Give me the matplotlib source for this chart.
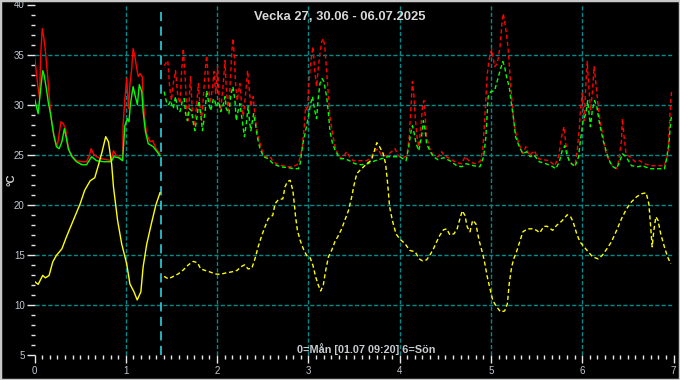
import numpy as np
import matplotlib
matplotlib.use("Agg")
import matplotlib.pyplot as plt
from matplotlib.ticker import MultipleLocator
from matplotlib.patches import Rectangle

plt.rcParams['font.family'] = ['Liberation Sans', 'DejaVu Sans']

title = "Vecka 27, 30.06 - 06.07.2025"
footer = "0=Mån [01.07 09:20] 6=Sön"
t_now = 1.389  # 01.07 09:20

# --- measured so far (solid) ---
red_t = [0, 0.01, 0.03, 0.055, 0.068, 0.085, 0.10, 0.12, 0.14, 0.16, 0.177, 0.20, 0.225, 0.25,
         0.27, 0.29, 0.315, 0.34, 0.36, 0.38, 0.42, 0.46, 0.52, 0.57, 0.60, 0.62, 0.645, 0.68,
         0.735, 0.79, 0.84, 0.865, 0.89, 0.935, 0.965, 0.97, 0.99, 1.01, 1.03, 1.045, 1.065,
         1.08, 1.10, 1.12, 1.137, 1.155, 1.18, 1.19, 1.21, 1.23, 1.265, 1.295, 1.33, 1.375]
red = [34.8, 34.1, 32.4, 30.6, 35.0, 37.6, 36.8, 35.3, 33.3, 31.0, 29.0, 27.6, 26.4, 25.9,
       27.1, 28.3, 28.1, 27.6, 26.3, 25.4, 24.8, 24.4, 24.3, 24.3, 24.9, 25.6, 25.1, 24.8,
       24.6, 24.5, 24.4, 25.4, 25.0, 24.7, 24.6, 27.9, 30.6, 32.6, 29.6, 32.0, 33.6,
       35.6, 34.8, 33.6, 32.8, 33.1, 32.8, 30.6, 28.3, 27.0, 26.3, 26.4, 25.6, 25.1]

green_t = [0, 0.016, 0.04, 0.068, 0.09, 0.104, 0.13, 0.15, 0.177, 0.21, 0.24, 0.27, 0.30,
           0.327, 0.35, 0.37, 0.41, 0.46, 0.52, 0.57, 0.625, 0.68, 0.755, 0.84, 0.87, 0.92,
           0.965, 0.99, 1.017, 1.035, 1.05, 1.08, 1.10, 1.127, 1.148, 1.175, 1.19, 1.215,
           1.246, 1.30, 1.375]
green = [30.6, 30.0, 29.1, 31.6, 33.4, 33.0, 31.6, 30.3, 29.0, 27.0, 25.8, 25.6, 26.3,
         27.6, 26.6, 25.6, 24.8, 24.3, 24.0, 24.0, 24.8, 24.4, 24.3, 24.3, 24.8, 24.7,
         24.4, 27.9, 28.6, 28.3, 30.0, 31.8, 31.0, 30.0, 32.0, 31.3, 29.3, 27.3,
         26.1, 25.8, 24.9]

yellow_t = [0, 0.04, 0.09, 0.12, 0.16, 0.20, 0.24, 0.30, 0.35, 0.425, 0.50, 0.55, 0.61, 0.66,
            0.70, 0.735, 0.78, 0.81, 0.845, 0.865, 0.91, 0.955, 1.01, 1.045, 1.09, 1.125,
            1.165, 1.19, 1.23, 1.28, 1.33, 1.375]
yellow = [12.35, 12.05, 12.95, 12.7, 12.95, 14.3, 14.95, 15.6, 16.8, 18.45, 20.1, 21.45, 22.4,
          22.7, 23.95, 25.1, 26.8, 26.3, 24.1, 21.8, 18.45, 16.1, 14.1, 12.1, 11.3, 10.5,
          11.3, 13.8, 16.1, 18.1, 20.0, 21.2]

# --- previous week / reference (dashed) ---
red2_t = [1.42, 1.46, 1.48, 1.50, 1.52, 1.545, 1.57, 1.594, 1.61, 1.63, 1.65, 1.667, 1.685,
          1.70, 1.71, 1.73, 1.75, 1.775, 1.795, 1.81, 1.83, 1.85, 1.87, 1.886, 1.905, 1.92,
          1.95, 1.966, 1.985, 2.006, 2.02, 2.04, 2.07, 2.087, 2.10, 2.12, 2.14, 2.16, 2.174,
          2.19, 2.20, 2.22, 2.25, 2.27, 2.287, 2.31, 2.335, 2.35, 2.37, 2.396, 2.41, 2.43,
          2.45, 2.48, 2.51, 2.54, 2.58, 2.615, 2.67, 2.725, 2.78, 2.835, 2.89, 2.93, 2.955,
          2.97, 2.99, 3.006, 3.025, 3.05, 3.07, 3.09, 3.11, 3.127, 3.146, 3.163, 3.18, 3.20,
          3.22, 3.236, 3.265, 3.29, 3.33, 3.365, 3.42, 3.45, 3.49, 3.565, 3.64, 3.69, 3.73,
          3.765, 3.80, 3.857, 3.91, 3.95, 3.985, 4.04, 4.08, 4.105, 4.12, 4.135, 4.14, 4.157,
          4.17, 4.19, 4.21, 4.233, 4.25, 4.266, 4.28, 4.295, 4.33, 4.37, 4.42, 4.46, 4.49,
          4.55, 4.625, 4.68, 4.715, 4.77, 4.825, 4.88, 4.91, 4.927, 4.945, 4.96, 4.99, 5.01,
          5.04, 5.07, 5.10, 5.12, 5.135, 5.15, 5.17, 5.19, 5.21, 5.23, 5.25, 5.28, 5.32,
          5.35, 5.383, 5.42, 5.474, 5.52, 5.573, 5.64, 5.70, 5.74, 5.774, 5.80, 5.82, 5.85,
          5.884, 5.92, 5.945, 5.97, 5.98, 6.00, 6.02, 6.04, 6.055, 6.07, 6.09, 6.11, 6.13,
          6.15, 6.175, 6.20, 6.23, 6.255, 6.285, 6.33, 6.375, 6.40, 6.43, 6.44, 6.455, 6.48,
          6.52, 6.58, 6.63, 6.68, 6.76, 6.83, 6.90, 6.94, 6.95, 6.97, 6.98]
red2 = [33.9, 34.4, 31.8, 30.4, 32.1, 33.4, 30.8, 30.1, 33.1, 35.6, 32.8, 29.4, 28.4,
        31.4, 32.8, 29.1, 27.8, 29.8, 32.1, 30.1, 28.4, 30.8, 33.4, 34.9, 32.4, 30.1,
        31.6, 33.3, 31.1, 33.8, 30.8, 29.4, 32.4, 34.4, 31.8, 29.4, 31.4, 35.1, 36.6,
        34.8, 32.4, 30.4, 32.1, 29.8, 28.8, 30.8, 33.4, 31.8, 29.8, 30.8, 29.4, 27.8,
        26.8, 25.8, 24.9, 24.8, 24.8, 24.3, 24.0, 23.9, 23.8, 23.8, 24.1, 25.5, 27.8,
        29.8, 29.4, 32.1, 34.1, 35.8, 33.4, 31.8, 33.8, 35.1, 36.3, 36.6, 35.8, 33.4,
        30.8, 28.8, 27.1, 25.9, 24.9, 24.6, 25.3, 24.8, 24.4, 24.4, 24.4, 24.8, 25.4,
        25.6, 24.9, 24.9, 25.3, 25.6, 24.9, 24.7, 24.9, 26.8, 29.1, 31.4, 32.3, 30.8,
        28.8, 26.8, 25.8, 27.8, 29.8, 30.4, 28.8, 26.8, 25.6, 24.9, 24.8, 25.3, 24.9,
        24.6, 24.2, 24.1, 24.8, 24.3, 24.1, 24.3, 25.4, 27.8, 30.8, 33.1, 35.1, 35.5,
        33.8, 34.1, 35.8, 38.1, 39.1, 38.3, 37.1, 35.4, 32.8, 30.4, 28.4, 26.8, 25.8,
        25.1, 25.8, 24.9, 25.4, 24.6, 24.5, 24.4, 23.9, 24.8, 26.8, 27.8, 26.1, 24.6,
        24.1, 23.9, 25.4, 27.8, 29.4, 31.1, 28.4, 32.1, 34.3, 32.1, 29.4, 31.1, 33.8,
        32.1, 29.8, 28.1, 26.8, 25.4, 24.6, 23.9, 23.6, 24.4, 26.4, 28.6, 27.1, 25.1,
        24.8, 24.3, 24.4, 24.1, 23.9, 23.9, 23.9, 25.1, 27.1, 30.4, 31.4]

green2_t = [1.42, 1.45, 1.47, 1.49, 1.52, 1.545, 1.57, 1.594, 1.62, 1.64, 1.655, 1.675, 1.695,
            1.72, 1.74, 1.757, 1.785, 1.80, 1.82, 1.84, 1.87, 1.886, 1.91, 1.93, 1.96, 1.975,
            1.99, 2.02, 2.04, 2.07, 2.087, 2.10, 2.13, 2.15, 2.174, 2.196, 2.21, 2.23, 2.25,
            2.27, 2.30, 2.32, 2.34, 2.355, 2.37, 2.40, 2.42, 2.44, 2.47, 2.51, 2.56, 2.615,
            2.69, 2.78, 2.85, 2.89, 2.91, 2.94, 2.97, 3.0, 3.025, 3.045, 3.07, 3.09, 3.11,
            3.127, 3.15, 3.17, 3.20, 3.22, 3.236, 3.265, 3.30, 3.35, 3.40, 3.45, 3.51, 3.58,
            3.65, 3.73, 3.80, 3.87, 3.95, 4.0, 4.07, 4.10, 4.12, 4.14, 4.16, 4.18, 4.21, 4.24,
            4.26, 4.28, 4.295, 4.33, 4.37, 4.42, 4.48, 4.55, 4.625, 4.68, 4.73, 4.81, 4.88,
            4.92, 4.945, 4.97, 5.0, 5.04, 5.07, 5.10, 5.13, 5.15, 5.17, 5.20, 5.22, 5.25,
            5.27, 5.31, 5.35, 5.39, 5.43, 5.47, 5.53, 5.60, 5.66, 5.71, 5.75, 5.78, 5.81,
            5.83, 5.86, 5.92, 5.96, 5.98, 6.01, 6.04, 6.06, 6.09, 6.11, 6.135, 6.16, 6.19,
            6.23, 6.27, 6.32, 6.375, 6.41, 6.44, 6.48, 6.54, 6.61, 6.66, 6.74, 6.83, 6.90,
            6.92, 6.95, 6.97, 6.98]
green2 = [31.3, 30.1, 30.0, 30.4, 29.6, 30.8, 29.4, 29.3, 30.4, 30.6, 29.1, 28.4, 29.6,
          29.4, 28.1, 27.4, 29.1, 30.4, 29.1, 27.4, 29.4, 31.4, 30.1, 29.4, 30.6, 30.4,
          29.8, 30.3, 29.3, 30.1, 30.8, 29.6, 29.1, 30.9, 31.8, 30.4, 28.4, 29.4, 30.1,
          28.8, 26.8, 28.1, 29.8, 28.4, 27.4, 29.1, 28.1, 26.8, 25.6, 24.8, 24.6, 24.1,
          23.8, 23.7, 23.6, 23.6, 24.1, 26.1, 27.4, 28.8, 30.1, 30.8, 29.4, 28.6, 30.8,
          32.1, 32.6, 32.3, 30.8, 29.1, 27.4, 26.1, 25.3, 24.6, 24.6, 24.4, 24.1, 24.0,
          24.1, 24.4, 24.6, 24.8, 24.8, 24.8, 24.4, 25.8, 27.1, 27.9, 27.1, 26.1, 25.4, 26.8,
          28.4, 27.4, 26.1, 25.4, 24.8, 24.5, 24.7, 24.4, 23.9, 23.8, 24.1, 23.9, 23.8,
          24.8, 26.8, 30.8, 31.3, 31.4, 32.4, 33.4, 34.3, 33.8, 32.8, 31.8, 30.4, 28.4,
          26.8, 25.8, 25.1, 25.3, 24.8, 25.0, 24.3, 24.1, 23.9, 23.6, 24.3, 25.4, 25.9,
          25.1, 24.3, 23.8, 24.8, 26.4, 28.4, 29.1, 30.4, 27.8, 29.4, 30.4, 29.8, 28.1,
          26.4, 25.1, 23.9, 23.6, 24.3, 25.1, 24.8, 23.9, 23.8, 23.9, 23.6, 23.6, 23.6,
          24.4, 26.1, 28.4, 28.9]

yellow2_t = [1.42, 1.466, 1.52, 1.575, 1.63, 1.685, 1.74, 1.787, 1.82, 1.867, 1.92, 1.977,
             2.03, 2.10, 2.16, 2.22, 2.26, 2.30, 2.34, 2.38, 2.415, 2.45, 2.49, 2.525, 2.56,
             2.61, 2.635, 2.67, 2.72, 2.745, 2.77, 2.80, 2.83, 2.846, 2.86, 2.88, 2.91, 2.945,
             2.98, 3.02, 3.05, 3.08, 3.11, 3.135, 3.163, 3.19, 3.22, 3.255, 3.29, 3.33, 3.365,
             3.40, 3.44, 3.475, 3.50, 3.53, 3.565, 3.64, 3.69, 3.72, 3.75, 3.78, 3.82, 3.846,
             3.865, 3.875, 3.89, 3.92, 3.96, 4.0, 4.06, 4.11, 4.17, 4.215, 4.25, 4.295, 4.33,
             4.37, 4.405, 4.44, 4.48, 4.515, 4.55, 4.595, 4.63, 4.66, 4.686, 4.715, 4.74,
             4.77, 4.80, 4.835, 4.87, 4.91, 4.934, 4.96, 4.99, 5.02, 5.06, 5.106, 5.15, 5.18,
             5.20, 5.227, 5.25, 5.28, 5.32, 5.35, 5.40, 5.457, 5.50, 5.535, 5.58, 5.617,
             5.676, 5.72, 5.774, 5.836, 5.873, 5.90, 5.94, 5.975, 6.02, 6.066, 6.114, 6.175,
             6.22, 6.27, 6.32, 6.377, 6.43, 6.486, 6.54, 6.596, 6.65, 6.70, 6.73, 6.75, 6.766,
             6.785, 6.807, 6.83, 6.86, 6.90, 6.935, 6.97]
yellow2 = [12.85, 12.6, 12.85, 13.1, 13.5, 14.0, 14.35, 14.2, 13.6, 13.45, 13.3, 13.1,
           13.05, 13.2, 13.3, 13.45, 13.8, 14.0, 13.6, 13.65, 14.6, 15.8, 16.95, 17.8, 18.6,
           18.95, 20.1, 20.5, 20.6, 21.8, 22.3, 22.45, 21.45, 20.1, 18.8, 17.45, 16.45, 15.6,
           14.95, 14.7, 13.95, 12.8, 11.95, 11.4, 11.95, 13.45, 14.8, 15.45, 16.3, 16.95, 17.6,
           18.45, 19.45, 20.8, 21.95, 23.1, 23.45, 24.1, 24.45, 25.3, 26.2, 25.8, 25.1, 24.1,
           22.45, 21.45, 19.8, 18.45, 17.1, 16.6, 16.1, 15.45, 15.3, 14.6, 14.4, 14.5, 14.95,
           15.6, 16.3, 16.95, 17.5, 17.6, 17.0, 17.1, 17.6, 18.6, 19.4, 18.95, 17.8,
           17.3, 18.45, 18.1, 16.45, 15.1, 14.1, 12.8, 11.6, 10.45, 9.85, 9.3, 9.4, 10.1,
           12.1, 13.8, 14.6, 15.3, 16.45, 17.3, 17.6, 17.6, 17.45, 17.2, 17.85, 17.85,
           17.45, 17.95, 18.35, 19.0, 18.8, 18.3, 17.1, 16.3, 15.8, 15.3, 14.8, 14.6,
           14.95, 15.6, 16.3, 17.45, 18.6, 19.6, 20.3, 20.8, 21.1, 21.2, 20.1, 17.8, 15.8,
           17.45, 18.8, 18.45, 17.1, 15.8, 14.8, 14.1]

fig = plt.figure(figsize=(6.8, 3.8), dpi=100, facecolor='black')
ax = fig.add_axes([34.5 / 680, 25 / 380, 639 / 680, 350.5 / 380], facecolor='black')

grid_c = '#008c8c'
for v in range(10, 40, 5):
    ax.axhline(v, color=grid_c, lw=1.0, ls=(0, (3, 1.6)), zorder=1)
for v in range(1, 7):
    ax.axvline(v, color=grid_c, lw=1.0, ls=(0, (3, 1.6)), zorder=1)
ax.axvline(t_now, ymin=0, ymax=0.98, color='#30e4f4', lw=1.1, ls=(0, (6, 3.5)), zorder=2)

lw = 1.0
dash = (0, (3, 2))
ax.plot(red_t, red, color='#ff0000', lw=lw, zorder=3)
ax.plot(green_t, green, color='#00ff00', lw=lw, zorder=4)
ax.plot(yellow_t, yellow, color='#ffff00', lw=lw, zorder=5)
ax.plot(red2_t, red2, color='#ff0000', lw=lw, ls=dash, zorder=3)
ax.plot(green2_t, green2, color='#00ff00', lw=lw, ls=dash, zorder=4)
ax.plot(yellow2_t, yellow2, color='#ffff00', lw=lw, ls=dash, zorder=5)

ax.set_xlim(0, 7)
ax.set_ylim(5, 40)
ax.xaxis.set_major_locator(MultipleLocator(1))
ax.xaxis.set_minor_locator(MultipleLocator(1 / 12))
ax.yaxis.set_major_locator(MultipleLocator(5))
ax.yaxis.set_minor_locator(MultipleLocator(1))
for s in ax.spines.values():
    s.set_visible(False)

lab_c = '#c0c8d0'
ax.tick_params(axis='both', which='major', colors='#e8e8e8', labelcolor=lab_c,
               labelsize=7, length=6, width=1)
ax.tick_params(axis='both', which='minor', colors='#e8e8e8', length=3, width=1)
ax.tick_params(axis='y', which='major', pad=1)
ax.tick_params(axis='x', which='major', pad=2)

fig.text(0.5, 1 - 17.5 / 380, title, color='#d8d8d8', fontsize=9.4, fontweight='bold',
         ha='center', va='center')
ax.text(0.519, 5.55, footer, transform=ax.get_yaxis_transform(), color='#c8ccd0',
        fontsize=7.8, fontweight='bold', ha='center', va='center')
fig.text(11 / 680, 1 - 180 / 380, '°C', color='#d0d0d0', fontsize=8, fontweight='bold',
         rotation=90, ha='center', va='center')

fig.patches.append(Rectangle((0, 0), 1, 1, transform=fig.transFigure, fill=False,
                             edgecolor='#c8c8c8', lw=2.5))

fig.savefig('out.png', dpi=100, facecolor='black')
